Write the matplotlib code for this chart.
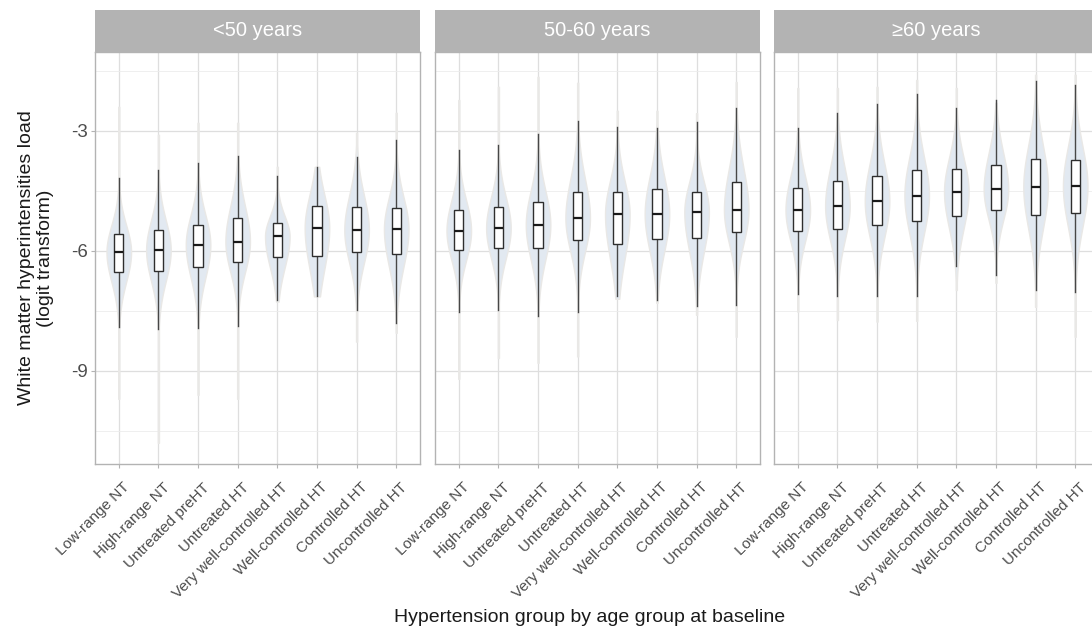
import numpy as np
import matplotlib
matplotlib.use("Agg")
import matplotlib.pyplot as plt
import matplotlib.transforms as mtransforms
from matplotlib.ticker import MultipleLocator

plt.rcParams['font.family'] = ['Liberation Sans', 'DejaVu Sans']

categories = ["Low-range NT", "High-range NT", "Untreated preHT", "Untreated HT",
              "Very well-controlled HT", "Well-controlled HT", "Controlled HT",
              "Uncontrolled HT"]
age_groups = ["<50 years", "50-60 years", "\u226560 years"]

# summary statistics per age group (panel) and category
whisk_hi = [[-4.18, -3.98, -3.80, -3.62, -4.12, -3.90, -3.66, -3.23],
            [-3.49, -3.35, -3.09, -2.75, -2.91, -2.93, -2.78, -2.43],
            [-2.92, -2.56, -2.34, -2.08, -2.42, -2.23, -1.75, -1.85]]
q3 = [[-5.58, -5.48, -5.35, -5.18, -5.30, -4.87, -4.90, -4.93],
      [-4.99, -4.91, -4.78, -4.53, -4.53, -4.46, -4.53, -4.29],
      [-4.42, -4.25, -4.13, -3.98, -3.96, -3.86, -3.71, -3.73]]
med = [[-6.03, -5.98, -5.85, -5.77, -5.64, -5.43, -5.48, -5.46],
       [-5.50, -5.43, -5.35, -5.18, -5.09, -5.08, -5.03, -4.98],
       [-4.98, -4.88, -4.76, -4.62, -4.52, -4.46, -4.40, -4.39]]
q1 = [[-6.53, -6.50, -6.40, -6.28, -6.16, -6.12, -6.03, -6.08],
      [-5.99, -5.94, -5.93, -5.74, -5.83, -5.70, -5.69, -5.53],
      [-5.50, -5.45, -5.36, -5.25, -5.13, -4.97, -5.10, -5.06]]
whisk_lo = [[-7.91, -7.96, -7.93, -7.88, -7.23, -7.14, -7.48, -7.80],
            [-7.52, -7.48, -7.63, -7.54, -7.14, -7.23, -7.39, -7.36],
            [-7.08, -7.12, -7.14, -7.14, -6.39, -6.61, -6.98, -7.04]]
vmax = [[-2.40, -3.10, -2.80, -2.80, -3.90, -3.90, -3.05, -2.55],
        [-2.23, -1.90, -1.65, -1.80, -2.50, -2.50, -2.56, -1.78],
        [-1.93, -1.93, -1.90, -1.73, -1.93, -2.30, -1.60, -1.60]]
vmin = [[-9.70, -10.80, -9.60, -9.70, -7.27, -7.14, -8.27, -8.05],
        [-9.20, -8.68, -8.80, -8.64, -7.20, -7.30, -7.60, -8.15],
        [-7.52, -7.73, -7.77, -7.75, -6.98, -6.80, -7.40, -8.15]]

W, H = 1092, 633
fig = plt.figure(figsize=(W / 100, H / 100), dpi=100)

panel_x = [95, 435, 774]
panel_w = 325
panel_top, panel_bot = 52, 464
strip_top = 10

grid_major = '#dedede'
grid_minor = '#ececec'
border = '#b3b3b3'
tick_col = '#4d4d4d'

violin_half = 0.31
box_half = 0.115

for p in range(3):
    ax = fig.add_axes([panel_x[p] / W, 1 - panel_bot / H, panel_w / W,
                       (panel_bot - panel_top) / H])
    ax.set_xlim(0.4, 8.6)
    ax.set_ylim(-11.33, -1.03)
    ax.yaxis.set_major_locator(MultipleLocator(3))
    ax.yaxis.set_minor_locator(MultipleLocator(1.5))
    ax.set_xticks(range(1, 9))
    ax.grid(True, which='major', color=grid_major, lw=0.9, zorder=0)
    ax.grid(True, which='minor', axis='y', color=grid_minor, lw=0.6, zorder=0)
    ax.set_axisbelow(True)
    for s in ax.spines.values():
        s.set_color(border)
        s.set_linewidth(1.0)
    ax.tick_params(axis='both', which='minor', length=0)
    ax.tick_params(axis='x', which='major', length=3.2, width=0.8, color=border,
                   labelsize=11, labelcolor=tick_col, pad=2)
    if p == 0:
        ax.tick_params(axis='y', which='major', length=3.2, width=0.8, color=border,
                       labelsize=13.5, labelcolor=tick_col, pad=2)
        ax.set_yticklabels([f"{int(v)}" for v in ax.get_yticks()])
    else:
        ax.tick_params(axis='y', which='major', length=0, labelleft=False)
    offset = mtransforms.ScaledTranslation(0.04, -0.09, fig.dpi_scale_trans)
    ax.set_xticklabels(categories, rotation=45, ha='right', va='top',
                       rotation_mode='anchor')
    for lab in ax.get_xticklabels():
        lab.set_transform(lab.get_transform() + offset)

    for i in range(8):
        x = i + 1
        m = med[p][i]
        s_lo = (m - q1[p][i]) / 0.6745
        s_hi = (q3[p][i] - m) / 0.6745
        yy = np.linspace(vmin[p][i], vmax[p][i], 400)
        sig = np.where(yy < m, s_lo, s_hi)
        dens = np.exp(-0.5 * ((yy - m) / sig) ** 2)
        wdt = violin_half * dens
        wdt = np.maximum(wdt, 0.014)
        ax.fill_betweenx(yy, x - wdt, x + wdt, facecolor='#e2e9f1',
                         edgecolor='#e9e8e6', lw=1.0, zorder=2)
        # whiskers
        ax.plot([x, x], [whisk_lo[p][i], q1[p][i]], color='#474747', lw=1.0, zorder=3)
        ax.plot([x, x], [q3[p][i], whisk_hi[p][i]], color='#474747', lw=1.0, zorder=3)
        ax.add_patch(plt.Rectangle((x - box_half, q1[p][i]), 2 * box_half,
                                   q3[p][i] - q1[p][i], facecolor='white',
                                   edgecolor='#2e2e2e', lw=1.0, zorder=4))
        ax.plot([x - box_half, x + box_half], [m, m], color='#1a1a1a', lw=1.6,
                zorder=5, solid_capstyle='butt')

    # strip
    sax = fig.add_axes([panel_x[p] / W, 1 - panel_top / H, panel_w / W,
                        (panel_top - strip_top) / H])
    sax.set_facecolor('#b3b3b3')
    sax.set_xticks([])
    sax.set_yticks([])
    for s in sax.spines.values():
        s.set_visible(False)
    sax.text(0.5, 0.5, age_groups[p], color='white', fontsize=14.5,
             ha='center', va='center', transform=sax.transAxes)

fig.text(36 / W, 1 - 258 / H, "White matter hyperintensities load\n(logit transform)",
         rotation=90, ha='center', va='center', multialignment='center',
         fontsize=14, color='#1a1a1a')
fig.text(590 / W, 1 - 617 / H, "Hypertension group by age group at baseline",
         ha='center', va='center', fontsize=14, color='#1a1a1a')

fig.savefig("out.png", dpi=100)
